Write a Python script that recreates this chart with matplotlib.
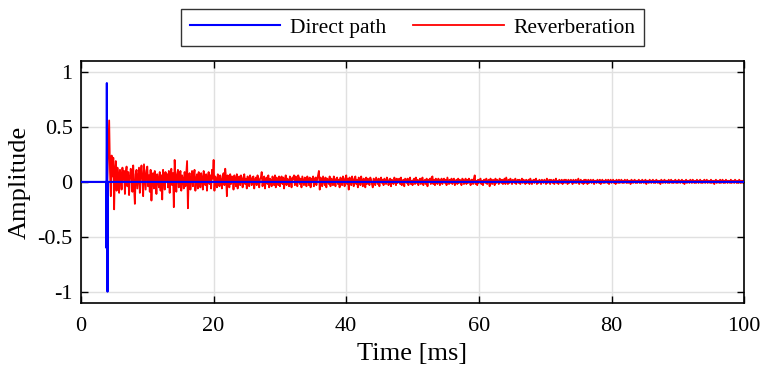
import matplotlib
matplotlib.use("Agg")
import matplotlib.pyplot as plt
import numpy as np

plt.rcParams["font.family"] = ["Liberation Serif", "DejaVu Serif"]
plt.rcParams["axes.unicode_minus"] = False

# Direct path: a single arrival just before 4 ms, zero elsewhere.
direct_t = [0.0, 3.78, 3.82, 3.90, 4.00, 4.06, 100.0]
direct_amp = [0.0, 0.0, -0.60, 0.90, -1.00, 0.0, 0.0]

# Reverberant tail, sampled every 0.125 ms starting at 4 ms (16 samples per row = 2 ms).
REVERB_START_MS = 4.0
SAMPLE_STEP_MS = 0.125

reverb_4_24 = [
    0.08, 0.32, 0.56, 0.10, -0.13, 0.24, 0.05, 0.22, -0.25, 0.12, 0.19, -0.08, 0.13, 0.04, -0.10, 0.11,
    0.06, -0.07, 0.13, 0.02, 0.10, -0.11, 0.08, 0.14, -0.04, 0.09, -0.12, 0.03, 0.12, 0.06, -0.09, 0.15,
    -0.05, -0.20, 0.07, 0.11, -0.06, 0.04, 0.13, -0.10, 0.08, 0.15, 0.02, -0.13, 0.16, 0.05, -0.07, 0.10,
    0.14, -0.04, 0.06, -0.09, 0.11, -0.17, 0.03, 0.08, -0.06, 0.10, 0.05, -0.11, 0.07, 0.02, -0.05, 0.09,
    -0.08, 0.06, -0.16, 0.11, 0.04, -0.07, 0.09, 0.01, 0.07, -0.05, 0.10, -0.10, 0.05, 0.12, -0.03, 0.08,
    -0.23, 0.20, 0.03, -0.09, 0.07, 0.11, -0.05, 0.04, 0.10, -0.08, 0.06, 0.02, -0.06, 0.09, -0.04, 0.07,
    0.19, -0.24, 0.05, 0.08, -0.07, 0.03, 0.10, -0.04, 0.06, 0.11, -0.08, 0.02, 0.07, -0.06, 0.09, 0.04,
    -0.05, 0.08, 0.03, -0.07, 0.10, 0.05, -0.03, 0.07, -0.08, 0.04, 0.09, -0.02, 0.06, -0.06, 0.11, 0.03,
    0.20, -0.08, 0.05, 0.02, -0.05, 0.07, 0.03, -0.04, 0.06, 0.01, -0.06, 0.05, 0.08, -0.03, 0.12, 0.04,
    -0.13, 0.06, 0.03, -0.05, 0.07, -0.02, 0.05, 0.04, -0.07, 0.06, 0.02, -0.04, 0.07, -0.06, 0.03, 0.05,
]
reverb_24_44 = [
    -0.03, 0.06, 0.02, -0.05, 0.04, 0.07, -0.02, 0.03, -0.06, 0.05, 0.01, -0.04, 0.06, 0.02, -0.03, 0.04,
    0.05, -0.06, 0.02, 0.04, -0.03, 0.06, 0.01, -0.05, 0.03, 0.04, 0.09, -0.04, 0.02, 0.05, -0.06, 0.03,
    0.04, -0.02, 0.06, -0.05, 0.03, 0.01, -0.04, 0.05, 0.02, -0.03, 0.06, -0.05, 0.04, 0.02, -0.03, 0.05,
    -0.04, 0.03, 0.05, -0.02, 0.04, -0.06, 0.02, 0.06, -0.03, 0.03, 0.01, -0.04, 0.05, 0.02, -0.05, 0.04,
    0.03, 0.06, -0.03, 0.05, 0.02, -0.04, 0.06, 0.04, -0.02, 0.03, -0.05, 0.05, 0.01, -0.03, 0.04, 0.02,
    -0.04, 0.05, 0.02, -0.03, 0.04, -0.05, 0.03, 0.01, 0.05, -0.04, 0.02, 0.04, -0.03, 0.03, 0.06, 0.10,
    -0.07, 0.04, 0.02, -0.04, 0.05, 0.01, -0.03, 0.04, -0.05, 0.03, 0.02, -0.02, 0.05, -0.04, 0.03, 0.02,
    -0.03, 0.05, 0.01, -0.04, 0.03, 0.04, -0.02, 0.02, -0.05, 0.04, 0.01, -0.03, 0.05, 0.02, -0.04, 0.03,
    0.06, -0.02, 0.03, -0.07, 0.04, 0.02, -0.03, 0.05, 0.01, -0.04, 0.03, 0.05, -0.02, 0.02, -0.05, 0.04,
    0.02, -0.03, 0.05, 0.01, -0.04, 0.03, 0.02, -0.05, 0.04, -0.02, 0.03, 0.01, -0.03, 0.04, 0.02, -0.02,
]
reverb_44_64 = [
    -0.05, 0.03, 0.02, -0.03, 0.04, 0.01, -0.02, 0.03, -0.04, 0.02, 0.04, -0.01, 0.02, -0.03, 0.03, 0.01,
    -0.02, 0.04, 0.02, -0.03, 0.01, 0.03, -0.04, 0.02, 0.01, -0.02, 0.04, 0.02, -0.03, 0.03, -0.01, 0.02,
    0.03, -0.02, 0.04, -0.03, 0.01, 0.02, -0.04, 0.03, 0.02, -0.01, 0.03, -0.03, 0.02, 0.04, -0.02, 0.01,
    -0.03, 0.02, 0.03, -0.02, 0.04, -0.01, 0.02, -0.03, 0.01, 0.03, -0.02, 0.02, 0.04, -0.03, 0.01, 0.02,
    -0.02, 0.03, -0.04, 0.02, 0.01, 0.03, -0.02, 0.04, 0.05, -0.02, 0.02, -0.03, 0.03, 0.01, -0.02, 0.03,
    0.02, -0.03, 0.01, 0.03, -0.02, 0.02, 0.03, -0.01, 0.02, -0.03, 0.04, 0.01, -0.02, 0.02, -0.01, 0.03,
    -0.02, 0.02, 0.03, -0.03, 0.01, 0.02, -0.02, 0.03, -0.01, 0.02, 0.01, -0.03, 0.03, 0.02, -0.02, 0.01,
    0.03, -0.02, 0.02, -0.01, 0.03, 0.01, -0.03, 0.02, 0.02, -0.02, 0.03, 0.06, -0.02, 0.01, -0.03, 0.02,
    -0.01, 0.02, 0.03, -0.02, 0.01, -0.03, 0.02, 0.02, -0.01, 0.03, -0.02, 0.01, 0.02, -0.04, 0.03, 0.01,
    -0.02, 0.02, 0.01, -0.03, 0.03, -0.01, 0.02, 0.01, -0.02, 0.03, 0.02, -0.01, 0.02, -0.02, 0.01, 0.03,
]
reverb_64_84 = [
    -0.02, 0.04, 0.01, -0.02, 0.02, -0.01, 0.03, 0.01, -0.02, 0.02, 0.01, -0.01, 0.03, -0.02, 0.01, 0.02,
    -0.01, 0.02, -0.02, 0.01, 0.03, -0.01, 0.02, 0.01, -0.02, 0.02, -0.01, 0.01, 0.02, -0.02, 0.03, 0.01,
    -0.02, 0.01, 0.02, -0.01, 0.02, 0.03, -0.02, 0.01, -0.01, 0.02, 0.01, -0.02, 0.02, 0.01, -0.01, 0.02,
    0.01, -0.02, 0.03, -0.01, 0.01, 0.02, -0.02, 0.02, 0.01, -0.01, 0.02, -0.02, 0.01, 0.03, -0.01, 0.01,
    -0.02, 0.02, 0.01, -0.01, 0.02, -0.02, 0.01, 0.02, -0.01, 0.02, 0.01, -0.02, 0.02, -0.01, 0.01, 0.02,
    0.01, -0.02, 0.02, 0.01, -0.01, 0.02, -0.01, 0.01, 0.03, -0.02, 0.01, 0.02, -0.01, 0.01, -0.02, 0.02,
    -0.01, 0.02, 0.01, -0.02, 0.02, -0.01, 0.01, 0.02, -0.01, 0.01, 0.02, -0.02, 0.01, 0.01, -0.01, 0.02,
    0.01, -0.01, 0.02, -0.02, 0.01, 0.02, -0.01, 0.01, -0.01, 0.02, 0.01, -0.01, 0.02, -0.02, 0.01, 0.02,
    -0.01, 0.01, 0.02, -0.01, 0.01, -0.02, 0.02, 0.01, -0.01, 0.02, -0.01, 0.01, 0.02, -0.01, 0.01, -0.01,
    0.02, 0.01, -0.01, 0.02, -0.01, 0.01, 0.01, -0.02, 0.02, 0.01, -0.01, 0.01, 0.02, -0.01, 0.01, -0.01,
]
reverb_84_100 = [
    0.01, 0.02, -0.01, 0.01, -0.01, 0.02, 0.01, -0.01, 0.01, 0.02, -0.02, 0.01, 0.01, -0.01, 0.02, 0.01,
    -0.01, 0.01, 0.02, -0.01, 0.01, -0.01, 0.02, 0.01, -0.01, 0.01, 0.01, -0.02, 0.02, 0.01, -0.01, 0.01,
    0.02, -0.01, 0.01, 0.01, -0.01, 0.02, -0.01, 0.01, 0.02, -0.01, 0.01, -0.01, 0.01, 0.02, -0.01, 0.01,
    -0.01, 0.02, 0.01, -0.01, 0.01, 0.02, -0.01, 0.01, -0.02, 0.01, 0.02, -0.01, 0.01, 0.01, -0.01, 0.02,
    0.01, -0.01, 0.02, 0.01, -0.01, 0.01, -0.01, 0.02, 0.01, -0.01, 0.01, 0.02, -0.01, 0.01, -0.01, 0.01,
    0.02, -0.01, 0.01, 0.02, -0.01, 0.01, 0.01, -0.01, 0.02, -0.01, 0.01, 0.01, -0.02, 0.01, 0.02, -0.01,
    0.01, 0.01, -0.01, 0.02, -0.01, 0.01, 0.02, -0.01, 0.01, -0.01, 0.02, 0.01, -0.01, 0.01, 0.01, -0.01,
    0.02, -0.01, 0.01, 0.01, -0.01, 0.02, 0.01, -0.01, 0.01, -0.01, 0.02, 0.01, -0.01, 0.01, 0.01, -0.01,
    0.00,
]

reverb_amp = np.array(reverb_4_24 + reverb_24_44 + reverb_44_64
                      + reverb_64_84 + reverb_84_100)
reverb_t = REVERB_START_MS + SAMPLE_STEP_MS * np.arange(len(reverb_amp))
# silence before the first reflection arrives
reverb_t = np.concatenate([[0.0, 3.95], reverb_t])
reverb_amp = np.concatenate([[0.0, 0.0], reverb_amp])

fig = plt.figure(figsize=(7.64, 3.66), dpi=100)
ax = fig.add_axes([0.106, 0.173, 0.868, 0.660])

ax.plot(reverb_t, reverb_amp, color="#ff0000", lw=1.3, label="Reverberation", zorder=2)
ax.plot(direct_t, direct_amp, color="#0000ff", lw=1.5, label="Direct path", zorder=3)

ax.set_xlim(0, 100)
ax.set_ylim(-1.1, 1.1)
ax.set_xticks([0, 20, 40, 60, 80, 100])
ax.set_yticks([-1, -0.5, 0, 0.5, 1])
ax.set_yticklabels(["-1", "-0.5", "0", "0.5", "1"])
ax.tick_params(direction="in", top=True, right=True, length=5, width=1.0,
               labelsize=16)
ax.tick_params(axis="x", pad=10)
ax.tick_params(axis="y", pad=6)
ax.grid(True, color="#e0e0e0", lw=1.0)
ax.set_axisbelow(True)
for sp in ax.spines.values():
    sp.set_linewidth(1.2)

ax.set_xlabel("Time [ms]", fontsize=19, labelpad=5)
ax.set_ylabel("Amplitude", fontsize=19, labelpad=5)

handles, labels = ax.get_legend_handles_labels()
leg = ax.legend(handles[::-1], labels[::-1], ncol=2, loc="lower center",
                bbox_to_anchor=(0.5, 1.062), borderaxespad=0, fontsize=15.5,
                frameon=True, fancybox=False, edgecolor="black",
                handlelength=4.2, handletextpad=0.45, columnspacing=1.25,
                borderpad=0.4)
leg.get_frame().set_linewidth(1.0)

fig.savefig("out.png", dpi=100)
